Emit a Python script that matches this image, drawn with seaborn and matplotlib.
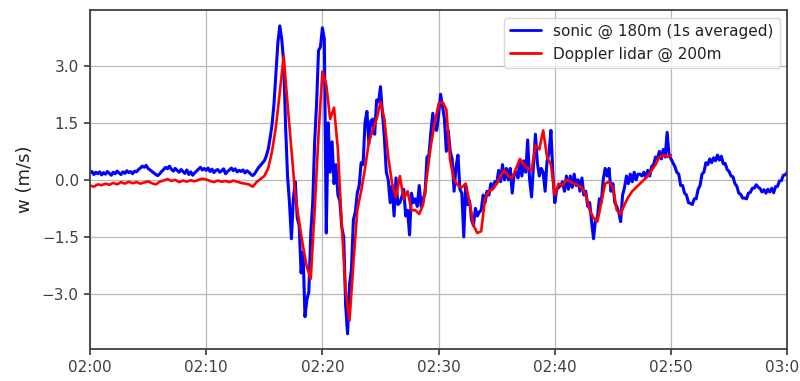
import numpy as np
import pandas as pd
import matplotlib
matplotlib.use("Agg")
import matplotlib.pyplot as plt
import matplotlib.dates as mdates
import seaborn as sns

# Vertical velocity, 02:00-03:00
# sonic anemometer, 1 s data averaged, one value every 10 s
sonic_step_s = 10
sonic_w = [
    0.18, 0.22, 0.14, 0.20, 0.16, 0.21,
    0.13, 0.19, 0.15, 0.22, 0.17, 0.12,
    0.20, 0.16, 0.23, 0.18, 0.14, 0.21,
    0.17, 0.24, 0.19, 0.22, 0.16, 0.23,
    0.21, 0.27, 0.31, 0.36, 0.33, 0.38,
    0.30, 0.26, 0.22, 0.18, 0.14, 0.11,
    0.16, 0.22, 0.27, 0.33, 0.29, 0.36,
    0.28, 0.23, 0.30, 0.25, 0.20, 0.27,
    0.22, 0.17, 0.26, 0.14, 0.21, 0.12,
    0.18, 0.23, 0.28, 0.33, 0.26, 0.30,
    0.25, 0.31, 0.22, 0.28, 0.19, 0.25,
    0.27, 0.20, 0.24, 0.29, 0.16, 0.22,
    0.26, 0.31, 0.24, 0.29, 0.21, 0.25,
    0.22, 0.26, 0.18, 0.24, 0.20, 0.15,
    0.11, 0.16, 0.24, 0.32, 0.38, 0.44,
    0.50, 0.62, 0.80, 1.10, 1.45, 2.00,
    2.80, 3.60, 4.05, 3.70, 3.10, 1.40,
    0.10, -0.60, -1.55, -0.50, -0.05, -1.00,
    -1.20, -2.45, -1.90, -3.60, -3.15, -2.95,
    -1.40, -0.60, 1.00, 2.00, 3.40, 3.50,
    4.00, 3.70, -1.40, 1.50, 0.20, 1.00,
    -0.10, 0.40, -0.40, -0.55, -1.25, -1.50,
    -3.30, -4.05, -2.75, -2.35, -1.05, -0.85,
    -0.35, -0.15, 0.45, 0.40, 1.50, 1.80,
    0.95, 1.55, 1.60, 1.20, 2.10, 2.05,
    2.45, 1.75, 1.10, 0.20, 0.00, -0.60,
    -0.15, -0.95, 0.05, -0.65, -0.60, -0.45,
    -0.25, -0.95, -0.80, -1.45, -0.35, -0.60,
    -0.50, -0.70, -0.15, -0.70, -0.50, -0.35,
    0.60, 0.65, 1.25, 1.75, 1.35, 1.30,
    1.70, 2.25, 1.95, 1.60, 0.75, 1.30,
    0.75, 0.55, -0.30, 0.35, 0.65, -0.25,
    -0.35, -1.50, -0.15, -0.65, -0.55, -1.05,
    -1.20, -0.75, -0.95, -0.85, -0.80, -0.40,
    -0.60, -0.30, -0.40, -0.10, -0.20, -0.05,
    -0.10, 0.25, -0.05, 0.40, 0.00, 0.30,
    0.00, 0.30, -0.35, 0.15, 0.20, 0.05,
    0.50, 0.10, 0.50, 0.20, 1.05, 0.00,
    -0.45, 0.40, 1.20, 0.45, 0.10, 0.30,
    0.20, -0.30, 0.50, 0.70, 1.30, 0.15,
    -0.60, -0.25, -0.20, -0.15, -0.05, -0.30,
    0.10, -0.25, 0.10, -0.20, 0.15, -0.15,
    0.00, -0.30, 0.05, -0.40, -0.30, -0.70,
    -0.60, -1.10, -1.55, -1.05, -1.00, -0.50,
    -0.60, 0.00, 0.30, 0.10, 0.30, -0.30,
    -0.10, -0.60, -0.70, -0.85, -1.10, -0.40,
    -0.20, 0.10, -0.10, 0.15, -0.05, 0.20,
    0.00, 0.15, 0.15, 0.10, 0.20, 0.05,
    0.25, 0.10, 0.35, 0.40, 0.60, 0.55,
    0.75, 0.55, 0.80, 0.60, 1.25, 0.65,
    0.55, 0.45, 0.35, 0.20, 0.15, -0.15,
    -0.15, -0.35, -0.40, -0.60, -0.62, -0.65,
    -0.50, -0.50, -0.25, -0.15, 0.15, 0.20,
    0.45, 0.40, 0.55, 0.45, 0.58, 0.50,
    0.65, 0.52, 0.62, 0.42, 0.43, 0.27,
    0.22, 0.10, 0.08, -0.10, -0.17, -0.35,
    -0.38, -0.48, -0.48, -0.50, -0.35, -0.33,
    -0.22, -0.22, -0.13, -0.19, -0.23, -0.32,
    -0.26, -0.35, -0.25, -0.32, -0.22, -0.34,
    -0.18, -0.17, -0.03, -0.02, 0.12, 0.13,
    0.20,
]

# Doppler lidar, one value every 20 s (02:00-02:50)
lidar_step_s = 20
lidar_w = [
    -0.15, -0.18, -0.12,
    -0.14, -0.10, -0.13,
    -0.08, -0.12, -0.06,
    -0.10, -0.05, -0.09,
    -0.06, -0.10, -0.07,
    -0.04, -0.09, -0.12,
    -0.05, -0.02, 0.02,
    -0.03, 0.00, -0.06,
    -0.02, -0.05, -0.01,
    -0.04, 0.00, 0.03,
    0.01, -0.03, -0.06,
    -0.02, -0.05, -0.03,
    -0.06, -0.02, -0.05,
    -0.08, -0.10, -0.12,
    -0.18, -0.06, 0.02,
    0.10, 0.30, 0.75,
    1.40, 2.30, 3.25,
    2.00, 0.80, -0.40,
    -1.10, -1.75, -2.30,
    -2.60, -0.80, 1.20,
    2.85, 2.50, 1.60,
    1.90, 0.80, -1.20,
    -2.90, -3.70, -2.20,
    -0.80, -0.30, 0.30,
    1.00, 1.30, 1.60,
    2.05, 1.60, 0.60,
    -0.10, -0.45, 0.10,
    -0.50, -0.30, -0.80,
    -0.80, -0.90, -0.65,
    0.10, 0.90, 1.50,
    2.00, 2.05, 1.85,
    0.50, 0.00, -0.15,
    -0.20, -0.10, -0.60,
    -1.20, -1.40, -1.35,
    -0.50, -0.30, -0.25,
    -0.10, 0.10, 0.25,
    0.10, 0.05, 0.30,
    0.55, 0.40, 0.30,
    0.25, 0.90, 0.80,
    1.30, 0.60, 0.40,
    -0.40, -0.10, -0.15,
    0.00, -0.05, -0.10,
    -0.15, -0.20, -0.40,
    -0.80, -1.00, -1.10,
    -0.60, -0.10, -0.05,
    -0.20, -0.80, -0.90,
    -0.65, -0.45, -0.30,
    -0.20, -0.10, 0.00,
    0.10, 0.25, 0.40,
    0.60, 0.65, 0.60,
    0.65,
]

sonic_label = "sonic @ 180m (1s averaged)"
lidar_label = "Doppler lidar @ 200m"
y_ticks = [-3.0, -1.5, 0.0, 1.5, 3.0]

t0 = pd.Timestamp("2017-01-01 02:00:00")
t1 = pd.Timestamp("2017-01-01 03:00:00")

sonic = pd.DataFrame({
    "time": t0 + pd.to_timedelta(np.arange(len(sonic_w)) * sonic_step_s, unit="s"),
    "w": sonic_w,
    "source": sonic_label,
})
lidar = pd.DataFrame({
    "time": t0 + pd.to_timedelta(np.arange(len(lidar_w)) * lidar_step_s, unit="s"),
    "w": lidar_w,
    "source": lidar_label,
})
data = pd.concat([sonic, lidar], ignore_index=True)

sns.set_theme(style="whitegrid", rc={
    "axes.edgecolor": "#404040",
    "axes.linewidth": 1.3,
    "grid.color": "#b8b8b8",
    "grid.linewidth": 0.9,
    "xtick.bottom": True,
    "ytick.left": True,
    "xtick.major.size": 4,
    "ytick.major.size": 4,
    "xtick.color": "#404040",
    "ytick.color": "#404040",
    "text.color": "#222222",
    "axes.labelcolor": "#222222",
    "axes.unicode_minus": True,
})
plt.rcParams["font.family"] = ["DejaVu Sans"]

fig = plt.figure(figsize=(8.0, 3.81), dpi=100)
ax = fig.add_axes([0.1125, 0.084, 0.8715, 0.89])

sns.lineplot(
    data=data, x="time", y="w", hue="source",
    palette={sonic_label: "blue", lidar_label: "red"},
    hue_order=[sonic_label, lidar_label],
    linewidth=2.0, ax=ax, estimator=None, sort=False,
)
ax.lines[0].set_linewidth(2.2)
ax.lines[1].set_linewidth(1.9)

ax.set_xlim(t0, t1)
ax.set_ylim(-4.45, 4.47)
ax.set_yticks(y_ticks)
ax.yaxis.set_major_formatter(matplotlib.ticker.FuncFormatter(
    lambda v, _: f"{v:.1f}".replace("-", "\u2212")))
ax.xaxis.set_major_locator(mdates.MinuteLocator(byminute=[0, 10, 20, 30, 40, 50]))
ax.xaxis.set_major_formatter(mdates.DateFormatter("%H:%M"))
ax.tick_params(axis="both", labelsize=11, pad=4)
ax.set_xlabel("")
ax.set_ylabel("w (m/s)", fontsize=13, labelpad=6)
for s in ax.spines.values():
    s.set_visible(True)

leg = ax.legend(loc="upper right", fontsize=11, frameon=True,
                framealpha=0.8, edgecolor="#d0d0d0", fancybox=True,
                handlelength=2.0, borderaxespad=0.5)
for line in leg.get_lines():
    line.set_linewidth(2.0)

fig.savefig("out.png", dpi=100)
